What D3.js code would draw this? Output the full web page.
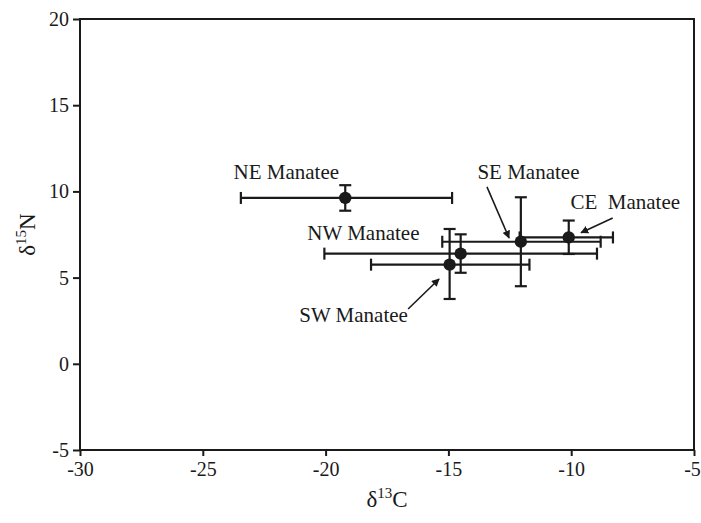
<!DOCTYPE html>
<html>
<head>
<meta charset="utf-8">
<script src="https://cdn.jsdelivr.net/npm/d3@7"></script>
<style>
  body { margin: 0; background: #fff; }
  svg text { font-family: "Times New Roman", "Liberation Serif", Tinos, "DejaVu Serif", serif !important; fill: #1a1a1a; }
</style>
</head>
<body>
<svg id="chart" width="701" height="523"></svg>
<script>
const names = ['NE', 'SE', 'CE', 'NW', 'SW']
const d13C = [-19.2, -12.05, -10.1, -14.5, -14.95]
const d13CLo = [-23.45, -15.25, -12.1, -20.05, -18.15]
const d13CHi = [-14.85, -8.8, -8.3, -8.95, -11.7]
const d15N = [9.62, 7.08, 7.33, 6.39, 5.75]
const d15NLo = [8.88, 4.5, 6.37, 5.28, 3.76]
const d15NHi = [10.36, 9.66, 8.31, 7.51, 7.82]

const labelText = ['NE Manatee', 'SE Manatee', 'CE\u00a0 Manatee', 'NW Manatee', 'SW Manatee']
const labelX = [-21.6, -11.74, -7.8, -18.46, -18.86]
const labelY = [10.72, 10.72, 8.98, 7.18, 2.42]

// arrows: [x1, y1, x2, y2] in data units
const arrows = [
  [-13.43, 10.26, -12.53, 7.3],
  [-8.31, 8.46, -9.6, 7.6],
  [-16.64, 3.18, -15.38, 4.92],
]

const xTicks = [-30, -25, -20, -15, -10, -5]
const yTicks = [-5, 0, 5, 10, 15, 20]

const margin = { left: 80, top: 19, right: 7, bottom: 73 }
const width = 701
const height = 523
const ink = '#1a1a1a'
const serif = '"Times New Roman", "Liberation Serif", Tinos, "DejaVu Serif", serif'

const svg = d3.select('#chart')
const x = d3.scaleLinear().domain([-30, -5]).range([margin.left, width - margin.right])
const y = d3.scaleLinear().domain([-5, 20]).range([height - margin.bottom, margin.top])

svg.append('defs').append('marker')
  .attr('id', 'head')
  .attr('viewBox', '0 0 10 10')
  .attr('refX', 9)
  .attr('refY', 5)
  .attr('markerWidth', 5)
  .attr('markerHeight', 5)
  .attr('orient', 'auto')
  .attr('markerUnits', 'strokeWidth')
  .append('path')
  .attr('d', 'M0,0 L10,5 L0,10 z')
  .attr('fill', ink)

// frame
svg.append('rect')
  .attr('x', x(-30)).attr('y', y(20))
  .attr('width', x(-5) - x(-30)).attr('height', y(-5) - y(20))
  .attr('fill', 'none').attr('stroke', ink).attr('stroke-width', 2)

const xAxis = svg.append('g')
  .attr('transform', `translate(0,${y(-5)})`)
  .call(d3.axisBottom(x).tickValues(xTicks).tickSize(6).tickPadding(6).tickFormat(d3.format('d')))
const yAxis = svg.append('g')
  .attr('transform', `translate(${x(-30)},0)`)
  .call(d3.axisLeft(y).tickValues(yTicks).tickSize(7).tickPadding(4).tickFormat(d3.format('d')))

for (const ax of [xAxis, yAxis]) {
  ax.attr('font-family', serif)
  ax.select('.domain').remove()
  ax.selectAll('line').attr('stroke', ink).attr('stroke-width', 2)
  ax.selectAll('text')
    .attr('font-family', serif)
    .style('font-size', '20px')
    .attr('fill', ink)
    .text((d) => String(d).replace('\u2212', '-'))
}
// last x label sits right at the page edge
xAxis.selectAll('text').filter((d) => d === -5).attr('dx', -2)

// axis titles
const xt = svg.append('text')
  .attr('x', x(-17.5)).attr('y', 507)
  .attr('text-anchor', 'middle').style('font-size', '23px')
xt.append('tspan').text('δ')
xt.append('tspan').text('13').style('font-size', '15px').attr('dy', -9)
xt.append('tspan').text('C').attr('dy', 9)

const yt = svg.append('text')
  .attr('transform', `translate(35,${y(7.5)}) rotate(-90)`)
  .attr('text-anchor', 'middle').style('font-size', '23px')
yt.append('tspan').text('δ')
yt.append('tspan').text('15').style('font-size', '15px').attr('dy', -9)
yt.append('tspan').text('N').attr('dy', 9)

// error bars
const g = svg.append('g').attr('stroke', ink).attr('stroke-width', 2.2)
const cap = 6
names.forEach((n, i) => {
  g.append('line')
    .attr('x1', x(d13CLo[i])).attr('x2', x(d13CHi[i]))
    .attr('y1', y(d15N[i])).attr('y2', y(d15N[i]))
  for (const v of [d13CLo[i], d13CHi[i]]) {
    g.append('line')
      .attr('x1', x(v)).attr('x2', x(v))
      .attr('y1', y(d15N[i]) - cap).attr('y2', y(d15N[i]) + cap)
  }
  g.append('line')
    .attr('x1', x(d13C[i])).attr('x2', x(d13C[i]))
    .attr('y1', y(d15NLo[i])).attr('y2', y(d15NHi[i]))
  for (const v of [d15NLo[i], d15NHi[i]]) {
    g.append('line')
      .attr('x1', x(d13C[i]) - cap).attr('x2', x(d13C[i]) + cap)
      .attr('y1', y(v)).attr('y2', y(v))
  }
})

svg.append('g').selectAll('circle')
  .data(names)
  .join('circle')
  .attr('cx', (d, i) => x(d13C[i]))
  .attr('cy', (d, i) => y(d15N[i]))
  .attr('r', 6.2)
  .attr('fill', ink)

// labels
svg.append('g').selectAll('text')
  .data(labelText)
  .join('text')
  .attr('x', (d, i) => x(labelX[i]))
  .attr('y', (d, i) => y(labelY[i]))
  .attr('text-anchor', 'middle')
  .style('font-size', '21px')
  .text((d) => d)

svg.append('g').selectAll('line')
  .data(arrows)
  .join('line')
  .attr('x1', (d) => x(d[0])).attr('y1', (d) => y(d[1]))
  .attr('x2', (d) => x(d[2])).attr('y2', (d) => y(d[3]))
  .attr('stroke', ink).attr('stroke-width', 1.6)
  .attr('marker-end', 'url(#head)')
</script>
</body>
</html>
